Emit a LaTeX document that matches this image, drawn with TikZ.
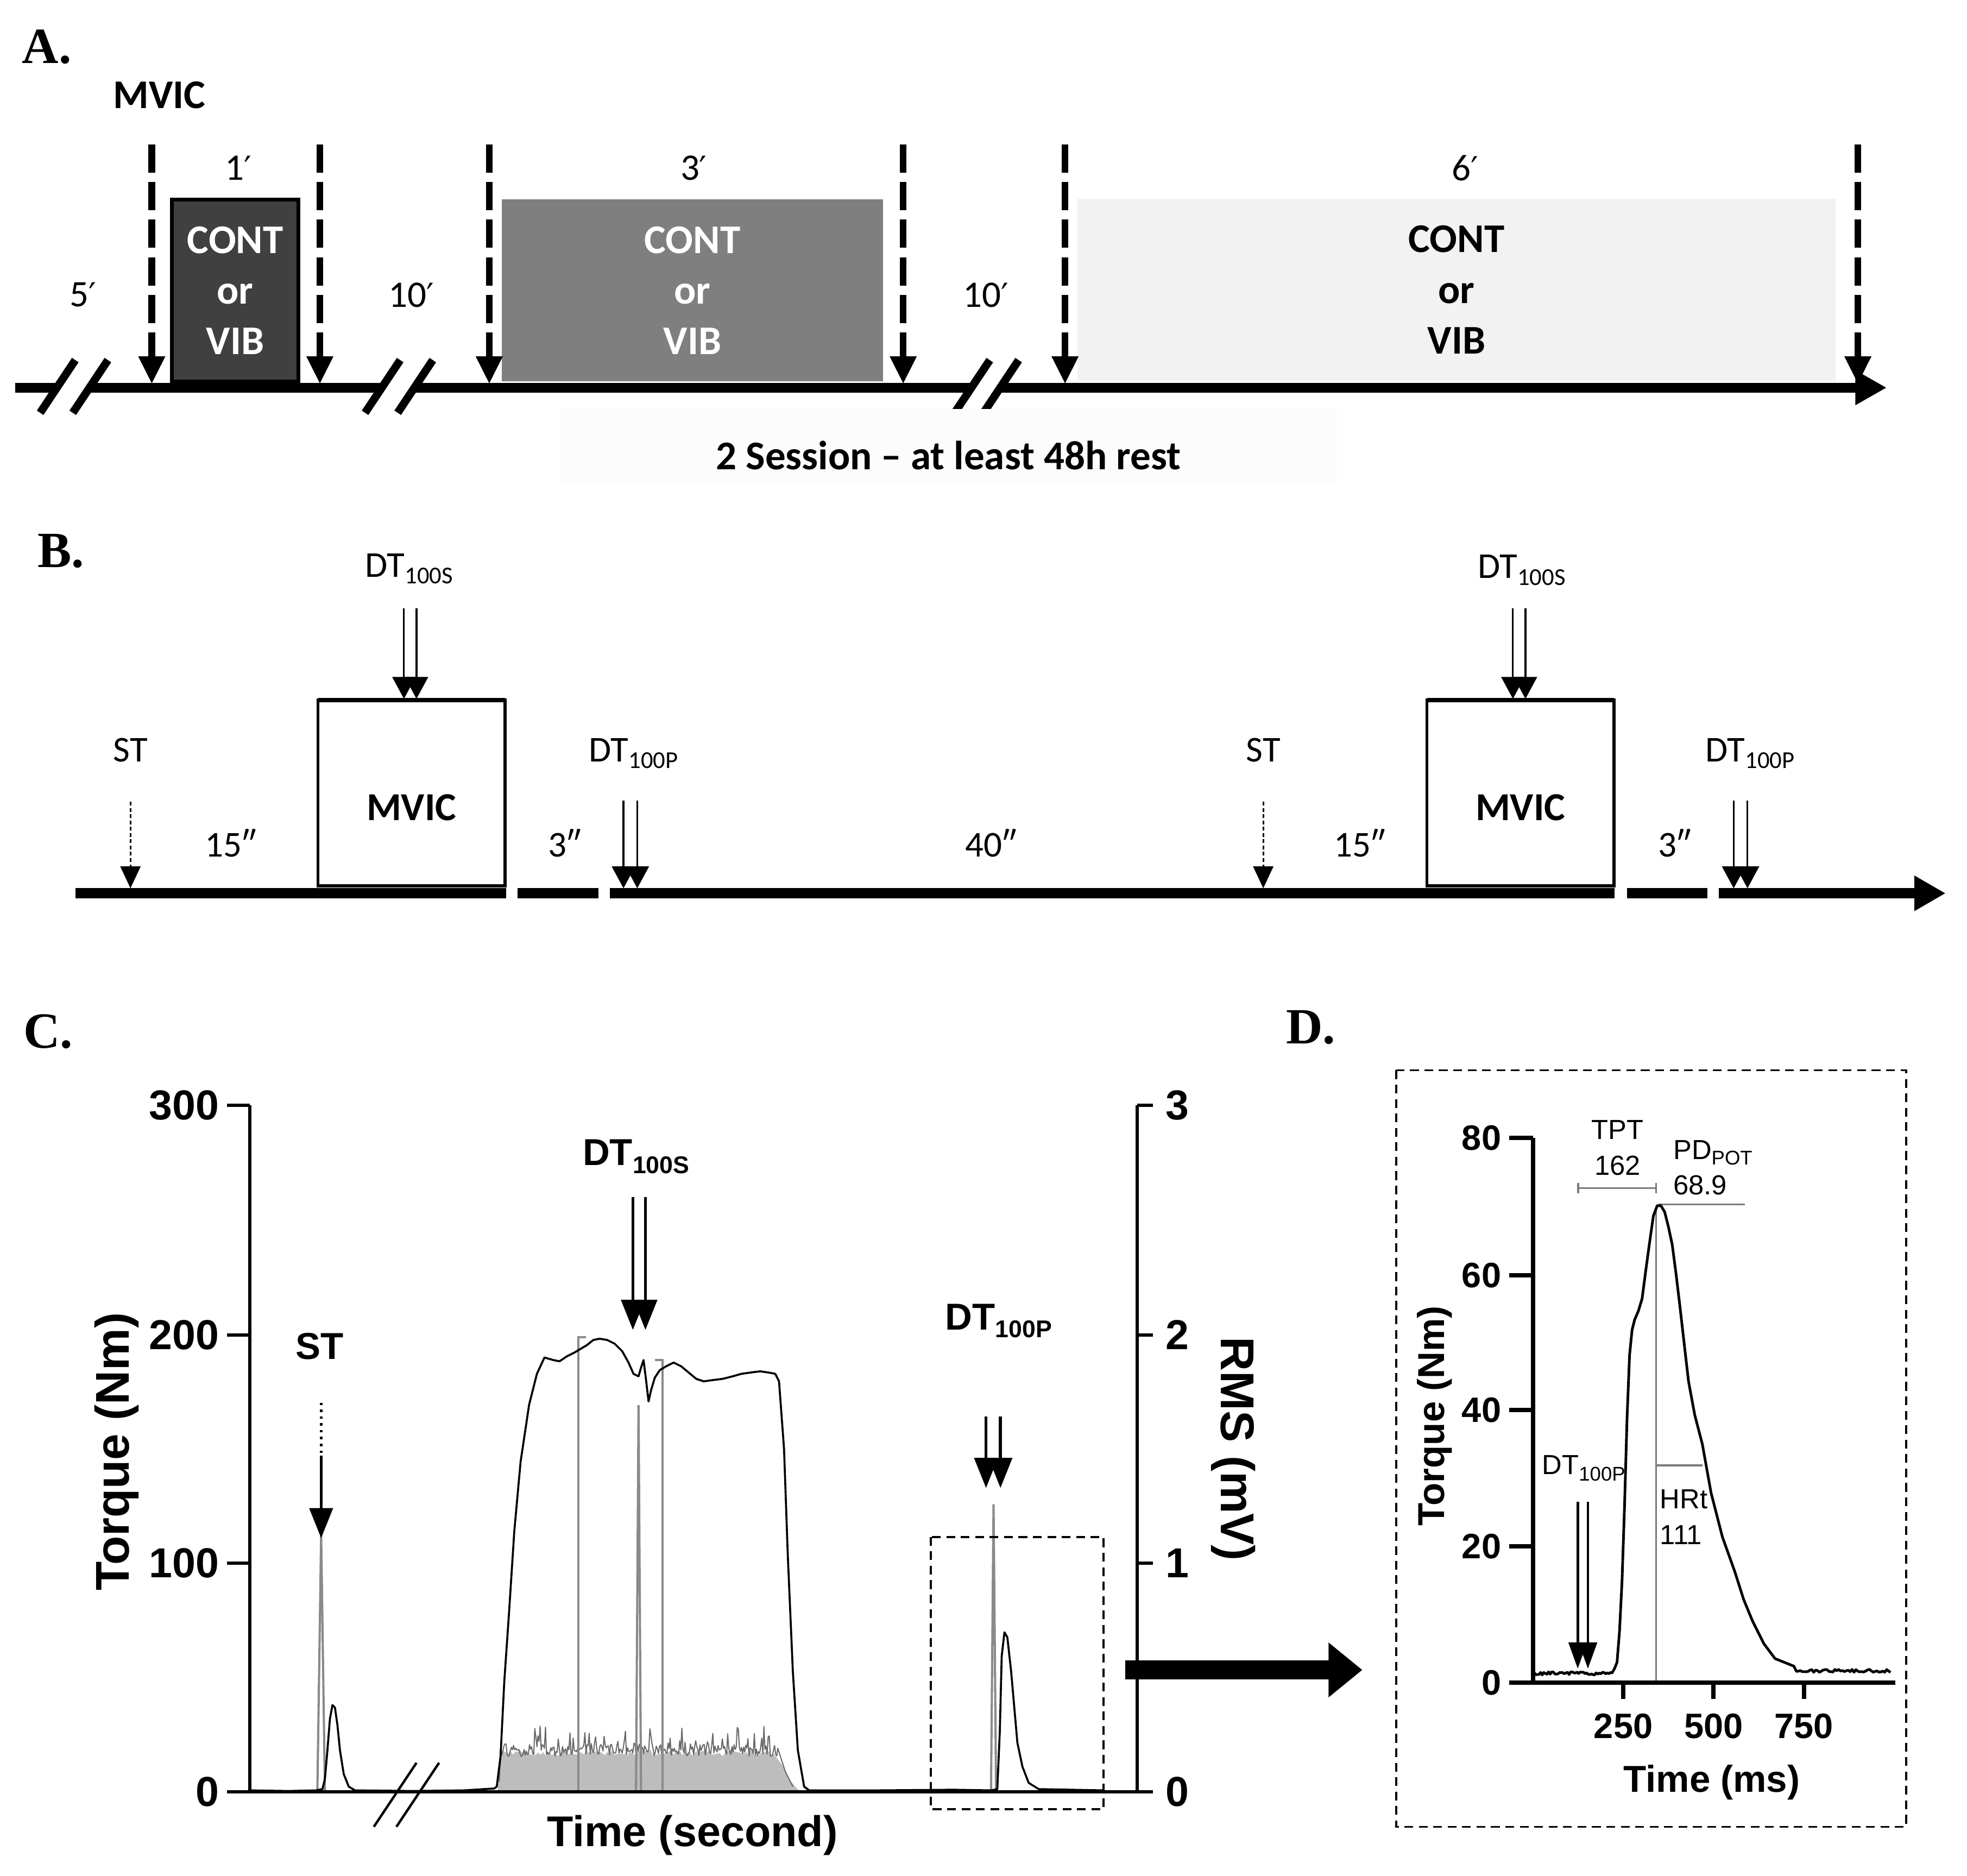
\documentclass[tikz,border=0pt]{standalone}
\usepackage{fontspec}
\setmainfont{Liberation Serif}
\newfontfamily\calibrifont{Carlito}
\newfontfamily\arialfont{Liberation Sans}
\newfontfamily\primefont{DejaVu Sans}
\usetikzlibrary{arrows.meta}
\usetikzlibrary{positioning}

\definecolor{contdark}{HTML}{404040}
\definecolor{contmid}{HTML}{7F7F7F}
\definecolor{contlight}{HTML}{F2F2F2}
\definecolor{restbg}{HTML}{FCFCFC}
\definecolor{rmsfill}{HTML}{BDBDBD}
\definecolor{rmsedge}{HTML}{6A6A6A}
\definecolor{emgspike}{HTML}{8A8A8A}
\definecolor{guidegray}{HTML}{7A7A7A}

\newcommand{\setfs}[1]{\fontsize{#1}{#1}\selectfont}
\newcommand{\lowidx}[3]{\raisebox{-#2}{\fontsize{#1}{#1}\selectfont #3}}
\newcommand{\minmark}{{\primefont\fontsize{15}{15}\selectfont ′}}

\begin{document}
\begin{tikzpicture}[x=0.2mm,y=-0.2mm]
\tikzset{panel/.style={font=\bfseries\setfs{23},inner sep=0pt},
  atext/.style={font=\calibrifont\setfs{17},inner sep=0pt},
  abold/.style={font=\calibrifont\bfseries\fontsize{18.5}{23}\selectfont,inner sep=0pt,align=center},
  contbox/.style={abold,minimum height=29mm},
  bigline/.style={line width=4.5pt},
  breakslash/.style={line width=3.6pt},
  dasharrow/.style={line width=3pt,dash pattern=on 4.5mm off 1.5mm,-{Triangle[width=4mm,length=4.4mm]}},
  btext/.style={font=\calibrifont\setfs{16.5},inner sep=0pt},
  bbold/.style={font=\calibrifont\bfseries\setfs{18},inner sep=0pt},
  mvicbox/.style={draw,line width=1.4pt,minimum width=29.8mm,minimum height=29.6mm,inner sep=0pt,outer sep=0pt},
  bline/.style={line width=4.8pt},
  thinpair/.style={line width=0.8pt,-{Triangle[width=3.7mm,length=3.5mm]}},
  dotarrow/.style={line width=0.8pt,dash pattern=on 0.6mm off 0.4mm,-{Triangle[width=3.2mm,length=3.5mm]}},
  caxis/.style={line width=1.4pt},
  ctick/.style={font=\arialfont\bfseries\setfs{19},inner sep=0pt},
  ctitle/.style={font=\arialfont\bfseries\setfs{21.5},inner sep=0pt},
  ctime/.style={font=\arialfont\bfseries\setfs{19.5},inner sep=0pt},
  clabel/.style={font=\arialfont\bfseries\setfs{17},inner sep=0pt},
  cpair/.style={line width=1.4pt,-{Triangle[width=3.7mm,length=4.8mm]}},
  cdot/.style={line width=1.1pt,dotted},
  cslash/.style={line width=1.1pt},
  torque/.style={line width=0.9pt,line join=round},
  emg/.style={draw=emgspike,line width=1pt},
  zoombox/.style={line width=0.9pt,dash pattern=on 1.4mm off 0.9mm},
  bigarrow/.style={line width=8.8pt,-{Triangle[width=8.4mm,length=5.4mm]}},
  daxis/.style={line width=2pt},
  dtick/.style={font=\arialfont\bfseries\setfs{16},inner sep=0pt},
  dtitle/.style={font=\arialfont\bfseries\setfs{17},inner sep=0pt},
  dtext/.style={font=\arialfont\setfs{12.5},inner sep=0pt},
  dcurve/.style={line width=1.2pt,line join=round},
  guide/.style={draw=guidegray,line width=0.8pt},
  dpair/.style={line width=1.2pt,-{Triangle[width=2.9mm,length=4.2mm]}}}
\useasboundingbox (0,0) rectangle (1568,1495);
\pgfmathsetseed{11}

% A
\node[panel] (labA) at (37.3,37.3) {A.};
\node[abold] (mvicA) at (127,76) {MVIC};
\node[contbox,fill=contdark,draw=black,line width=1.7pt,text=white,minimum width=20.2mm] (cont1) at (187.5,231.5) {CONT\\or\\VIB};
\node[contbox,fill=contmid,text=white,minimum width=60.8mm] (cont3) at (552,231.5) {CONT\\or\\VIB};
\node[contbox,fill=contlight,minimum width=120.8mm] (cont6) at (1161,231) {CONT\\or\\VIB};
\node[atext] (dur1) at (190,134) {1\minmark};
\node[atext] (dur3) at (553,134) {3\minmark};
\node[atext] (dur6) at (1168,134) {6\minmark};
\node[atext] (rest5) at (66,235) {5\minmark};
\node[atext] (rest10a) at (328,235) {10\minmark};
\node[atext] (rest10b) at (786,235) {10\minmark};
\draw[bigline] (12,309) -- (46,309);
\draw[bigline] (72,309) -- (305,309);
\draw[bigline] (331,309) -- (775,309);
\draw[bigline,-{Triangle[width=5.2mm,length=5mm]}] (798,309) -- (1504,309);
\foreach \c in {46,72,305,331,775,798}
  \draw[breakslash] (\c-14,329) -- (\c+14,287);
\foreach \x in {121,255,390,720,849,1481}
  \draw[dasharrow] (\x,115) -- (\x,306);
\fill[restbg] (447,326) rectangle (1066,386);
\node[abold] (session) at (756,363) {2 Session – at least 48h rest};

% B
\node[panel] (labB) at (48.5,439) {B.};
\node[mvicbox] (mvic1) at (328,632) {};
\node[mvicbox] (mvic2) at (1212,632) {};
\draw[line width=2.2pt] (mvic1.north west) -- (mvic1.north east);
\draw[line width=2.2pt] (mvic2.north west) -- (mvic2.north east);
\node[bbold,anchor=base] (mvicl1) at (328,654) {MVIC};
\node[bbold,anchor=base] (mvicl2) at (1212,654) {MVIC};
\draw[bline] (60,712) -- (403.5,712);
\draw[bline] (412.5,712) -- (477,712);
\draw[bline] (486,712) -- (1287,712);
\draw[bline] (1297,712) -- (1361,712);
\draw[bline,-{Triangle[width=5.3mm,length=5mm]}] (1370,712) -- (1551,712);
\node[btext,anchor=base] (dtsB1) at (326,460) {DT\lowidx{11}{3pt}{100S}};
\node[btext,anchor=base] (dtsB2) at (1213,461) {DT\lowidx{11}{3pt}{100S}};
\node[btext,anchor=base] (dtpB1) at (505,607) {DT\lowidx{11}{3pt}{100P}};
\node[btext,anchor=base] (dtpB2) at (1395,607) {DT\lowidx{11}{3pt}{100P}};
\node[btext,anchor=base] (stB1) at (104,607) {ST};
\node[btext,anchor=base] (stB2) at (1007,607) {ST};
\node[btext,anchor=base] (w15a) at (184,683) {15″};
\node[btext,anchor=base] (w3a) at (450,683) {3″};
\node[btext,anchor=base] (w40) at (790,683) {40″};
\node[btext,anchor=base] (w15b) at (1084,683) {15″};
\node[btext,anchor=base] (w3b) at (1335,683) {3″};
\foreach \x in {322,332,1206,1216}
  \draw[thinpair] (\x,485) -- (\x,557);
\foreach \x in {497,508,1382,1393}
  \draw[thinpair] (\x,638) -- (\x,708);
\foreach \x in {104,1007}
  \draw[dotarrow] (\x,639) -- (\x,708);

% C
\node[panel] (labC) at (38.5,822) {C.};
\filldraw[fill=rmsfill,draw=rmsfill,line width=0.4pt] (397,1428) -- (399,1398)
  -- plot[domain=400:617,samples=120] (\x,{1400-5*rnd}) -- (624,1408) -- (630,1420) -- (637,1428) -- cycle;
\draw[rmsedge,line width=0.5pt,line join=round] (398,1420) -- (399,1394)
  -- plot[domain=400:620,samples=260] (\x,{1400-10*rnd-16*rnd^6}) -- (626,1412) -- (632,1424);
\draw[emg] (253,1427) -- (256,1223) -- (259,1427);
\draw[emg] (461,1427) -- (461,1066) -- (467,1066);
\draw[emg] (507,1427) -- (509,1120) -- (511,1427);
\draw[emg] (528,1427) -- (528,1084) -- (522,1084);
\draw[emg] (790,1427) -- (792,1199) -- (794,1427);
\draw[torque] plot coordinates {(199,1427) (230,1427.5) (252,1427) (257,1426) (259,1418)
  (261,1395) (263,1370) (265,1359) (267,1361) (269,1375) (271,1395) (274,1414) (278,1424)
  (283,1427) (330,1427.5) (370,1427) (394,1425.5) (396,1424) (399,1400) (402,1340)
  (405.6,1288) (410,1220) (415,1165) (421.8,1119.5) (428,1095) (434,1082) (441,1084)
  (446,1085) (452,1081) (458,1078) (463,1075) (468,1072) (473,1068) (478,1067) (484,1068)
  (490,1071) (496,1077) (501,1086) (505,1095) (509,1097) (511,1090) (513,1084) (515,1100)
  (517,1117) (519,1108) (522,1098) (526,1092) (531,1089) (537,1086) (543,1089) (549,1094)
  (555,1099) (561,1101) (568,1100) (576,1099) (584,1097) (591,1095) (598,1094) (606,1093)
  (613,1094) (618,1095) (621,1101) (625,1155) (628,1240) (632,1332) (636,1395) (641,1424)
  (645,1427) (700,1427) (760,1426.5) (790,1427) (795,1426) (797,1380) (798.5,1320)
  (800.7,1301) (803,1305) (806,1332) (811,1389) (815,1408) (820,1421) (828,1426) (880,1427)};
\draw[caxis] (181,1428) -- (919,1428);
\draw[caxis] (199,1428) -- (199,881);
\draw[caxis] (906.5,1428) -- (906.5,881);
\foreach \v/\yy in {0/1428,100/1246,200/1064,300/881}{
  \draw[caxis] (181,\yy) -- (199,\yy);
  \node[ctick,anchor=east] at (175,\yy) {\v};}
\foreach \v/\yy in {0/1428,1/1246,2/1064,3/881}{
  \draw[caxis] (906.5,\yy) -- (919,\yy);
  \node[ctick,anchor=west] at (929,\yy) {\v};}
\draw[cslash] (298,1456) -- (332,1405);
\draw[cslash] (316,1456) -- (350,1405);
\node[ctitle,rotate=90] (torqueC) at (93,1157) {Torque (Nm)};
\node[ctitle,rotate=-90] (rmsC) at (983,1155) {RMS (mV)};
\node[ctime] (timeC) at (552,1463) {Time (second)};
\node[clabel] (stC) at (255,1073) {ST};
\draw[cdot] (256,1118) -- (256,1162);
\draw[cpair] (256,1160) -- (256,1226);
\node[clabel,anchor=base] (dtsC) at (507,929) {DT\lowidx{11}{3.5pt}{100S}};
\foreach \x in {504.5,514.5}
  \draw[cpair] (\x,954) -- (\x,1060);
\node[clabel,anchor=base] (dtpC) at (796,1060) {DT\lowidx{11}{3.5pt}{100P}};
\foreach \x in {786,797.5}
  \draw[cpair] (\x,1129) -- (\x,1186);
\draw[zoombox] (742,1225) rectangle (879.7,1442);
\draw[bigarrow] (897,1331) -- (1086,1331);

% D
\node[panel] (labD) at (1045,819) {D.};
\draw[zoombox] (1113,853) rectangle (1519.5,1456);
\draw[guide] (1320,962) -- (1320,1341);
\draw[guide] (1258,947) -- (1320,947);
\draw[guide] (1258,943) -- (1258,951);
\draw[guide] (1320,943) -- (1320,951);
\draw[guide] (1322,960) -- (1391,960);
\draw[guide] (1320,1168) -- (1357,1168);
\draw[dcurve] plot[domain=1223:1285,samples=50] (\x,{1335-2.5*rnd}) -- (1287,1330)
  -- (1289,1325) -- (1291,1300) -- (1293,1260) -- (1295,1200) -- (1297,1130) -- (1299,1080)
  -- (1301,1060) -- (1303,1052) -- (1306,1045) -- (1309,1035) -- (1312,1012) -- (1315,990)
  -- (1318,969) -- (1321,961) -- (1324,961) -- (1327,966) -- (1330,978) -- (1333,992)
  -- (1336,1015) -- (1339,1040) -- (1343,1075) -- (1346,1101) -- (1351,1128) -- (1357,1151)
  -- (1364,1190) -- (1373,1225) -- (1383,1253) -- (1390,1275) -- (1397,1292) -- (1406,1310)
  -- (1415,1322) -- (1430,1328) -- plot[domain=1432:1507,samples=50] (\x,{1333-2.5*rnd});
\draw[daxis] (1203,1341) -- (1511,1341);
\draw[daxis] (1222,1341) -- (1222,907);
\foreach \v/\yy in {0/1341,20/1232.5,40/1124,60/1016.5,80/907}{
  \draw[daxis] (1203,\yy) -- (1222,\yy);
  \node[dtick,anchor=east] at (1197,\yy) {\v};}
\foreach \v/\xx in {250/1294,500/1366,750/1438}{
  \draw[daxis] (\xx,1341) -- (\xx,1354);
  \node[dtick] at (\xx,1376) {\v};}
\node[dtitle] (timeD) at (1364.5,1420.5) {Time (ms)};
\node[dtitle,rotate=90] (torqueD) at (1143.5,1128.5) {Torque (Nm)};
\node[dtext] (tpt) at (1289.5,900.5) {TPT};
\node[dtext] (tptv) at (1289.5,929) {162};
\node[dtext,anchor=base west] (pdpot) at (1333.5,924) {PD\lowidx{9}{2.5pt}{POT}};
\node[dtext,anchor=west] (pdv) at (1333.5,944.6) {68.9};
\node[dtext,anchor=west] (hrt) at (1323,1195) {HRt};
\node[dtext,anchor=west] (hrtv) at (1323,1223.6) {111};
\node[dtext,anchor=base west] (dtpD) at (1229,1175) {DT\lowidx{9}{3pt}{100P}};
\foreach \x in {1257.7,1265.8}
  \draw[dpair] (\x,1197) -- (\x,1330);
\end{tikzpicture}
\end{document}
